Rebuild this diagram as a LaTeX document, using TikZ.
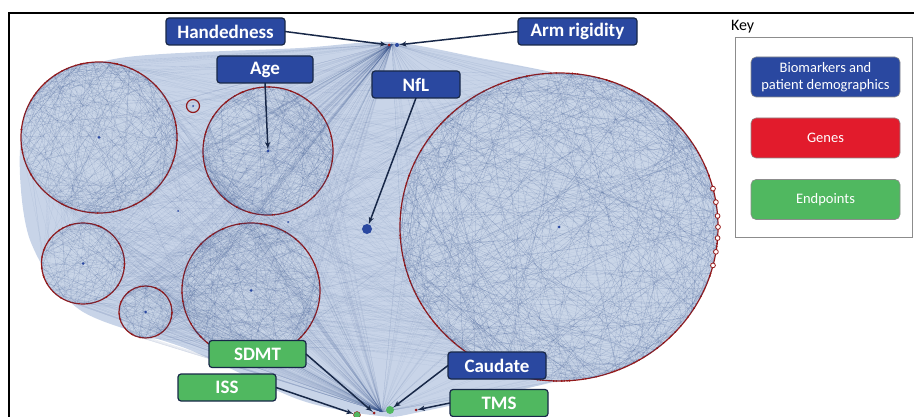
\documentclass[tikz,border=0pt]{standalone}
\usepackage{fontspec}
\setmainfont{Carlito}
\usepackage{tikz}
\usetikzlibrary{arrows,shapes,positioning}
\definecolor{bioblue}{RGB}{42,72,160}
\definecolor{endgreen}{RGB}{80,184,96}
\definecolor{genered}{RGB}{226,27,44}
\definecolor{navyline}{RGB}{24,40,72}
\definecolor{ringred}{RGB}{150,24,24}
\definecolor{webline}{RGB}{50,80,140}
\definecolor{webfill}{RGB}{202,214,232}
\definecolor{haze}{RGB}{200,212,232}
\tikzstyle{tag} = [rectangle, draw=navyline, line width=1.2pt, fill=bioblue, text=white, font=\bfseries\fontsize{19}{22}\selectfont, minimum height=27pt, rounded corners=3pt]
\tikzstyle{greentag} = [tag, fill=endgreen]
\tikzstyle{keytag} = [rectangle, draw=black!45, line width=0.6pt, text=white, align=center, font=\fontsize{14.5}{17}\selectfont, minimum width=149pt, minimum height=40pt, rounded corners=5pt]
\tikzstyle{pointer} = [draw, line width=1.5pt, color=navyline, -latex']
\tikzstyle{ring} = [ellipse, draw=ringred, line width=1.2pt, fill=webfill]
\tikzstyle{webedge} = [draw=webline, line width=0.15pt, opacity=0.3]
\tikzstyle{hubedge} = [draw=webline, line width=0.15pt, opacity=0.12]
\tikzstyle{dot} = [circle, fill=bioblue, minimum size=3pt]

\begin{document}
\begin{tikzpicture}[x=1pt, y=-1pt, every node/.style={inner sep=0pt, outer sep=0pt}]
				\useasboundingbox (0,0) rectangle (914,417);
				\pgfmathsetseed{42}
				% Network background
				\fill[haze] plot[smooth cycle] coordinates {(20,150) (40,90) (120,58) (300,48) (390,42) (480,58) (560,74) (640,95) (690,150) (700,260) (640,350) (560,380) (420,412) (380,416) (300,400) (190,350) (80,310) (30,240)};
				% Place clusters
				\node[ring, minimum width=156pt, minimum height=151pt] (clusterA) at (99,137.5) {};
				\node[ring, minimum width=130pt, minimum height=128pt] (clusterB) at (268,151) {};
				\node[ring, minimum width=318pt, minimum height=308pt] (clusterC) at (559,227) {};
				\node[ring, minimum width=83pt, minimum height=81pt] (clusterD) at (83,263.5) {};
				\node[ring, minimum width=53pt, minimum height=52pt] (clusterE) at (145.5,312) {};
				\node[ring, minimum width=138pt, minimum height=135pt] (clusterF) at (251,290.5) {};
				\node[ring, minimum size=13pt, fill=none] (clusterG) at (193,106) {};
				\coordinate (tophub) at (392,44);
				\coordinate (bottomhub) at (382,412);
				% Draw web
				\foreach \c/\n in {clusterA/220, clusterB/180, clusterC/500, clusterD/90, clusterE/50, clusterF/180}{
					\foreach \i in {1,...,\n}{
						\pgfmathrandominteger{\a}{0}{359}
						\pgfmathrandominteger{\b}{0}{359}
						\draw[webedge] (\c.\a) -- (\c.\b);
					}
				}
				\foreach \c/\d in {clusterA/clusterB, clusterA/clusterC, clusterB/clusterC, clusterF/clusterC, clusterD/clusterF, clusterA/clusterF, clusterB/clusterF, clusterE/clusterF, clusterD/clusterC, clusterA/clusterD, clusterE/clusterC}{
					\foreach \i in {1,...,60}{
						\pgfmathrandominteger{\a}{0}{359}
						\pgfmathrandominteger{\b}{0}{359}
						\draw[hubedge] (\c.\a) -- (\d.\b);
					}
				}
				\foreach \c in {clusterA, clusterB, clusterC, clusterD, clusterE, clusterF}{
					\foreach \i in {1,...,40}{
						\pgfmathrandominteger{\a}{0}{359}
						\pgfmathrandominteger{\b}{0}{359}
						\draw[hubedge] (tophub) -- (\c.\a);
						\draw[hubedge] (bottomhub) -- (\c.\b);
					}
				}
				\foreach \c/\n in {clusterA/60, clusterB/40, clusterC/160, clusterD/25, clusterE/20, clusterF/40}{
					\foreach \i in {1,...,\n}{
						\pgfmathrandominteger{\a}{0}{359}
						\fill[ringred] (\c.\a) circle (0.9pt);
					}
				}
				\foreach \a in {-14,-9,-4,0,4,9,14}{
					\draw[ringred, line width=0.8pt, fill=white] (clusterC.\a) circle (2.4pt);
				}
				% Place hub nodes
				\node[dot] (dotA) at (clusterA.center) {};
				\node[dot] (agehub) at (clusterB.center) {};
				\node[dot] (dotC) at (clusterC.center) {};
				\node[dot] (dotD) at (clusterD.center) {};
				\node[dot] (dotE) at (clusterE.center) {};
				\node[dot] (dotF) at (clusterF.center) {};
				\node[dot, minimum size=2pt] (dotG) at (clusterG.center) {};
				\node[dot, minimum size=2pt] (strayA) at (178,211) {};
				\node[dot, minimum size=2pt] (strayB) at (288,222) {};
				\node[dot, minimum size=10pt] (nfldot) at (367,229) {};
				\node[circle, fill=ringred, minimum size=3pt] (handdot) at (389,45) {};
				\node[dot, minimum size=4pt] (armdot) at (397,45) {};
				\node[circle, fill=endgreen, draw=ringred, line width=0.4pt, minimum size=7pt] (issdot) at (357,415) {};
				\node[circle, fill=ringred, minimum size=3pt] (sdmtdot) at (374,413) {};
				\node[circle, fill=endgreen, minimum size=8pt] (caudot) at (390,410) {};
				\node[circle, fill=ringred, minimum size=3pt] (tmsdot) at (416,410) {};
				% Place labels
				\node[tag, minimum width=119pt] (hand) at (225.5,31.5) {Handedness};
				\node[tag, minimum width=119pt] (armrig) at (577.5,31.5) {Arm rigidity};
				\node[tag, minimum width=96pt] (age) at (265,69.5) {Age};
				\node[tag, minimum width=88pt] (nfl) at (416,84.5) {NfL};
				\node[greentag, minimum width=97pt] (sdmt) at (257.5,354) {SDMT};
				\node[greentag, minimum width=98pt] (iss) at (227,387.5) {ISS};
				\node[tag, minimum width=98pt] (caudate) at (497,365.5) {Caudate};
				\node[greentag, minimum width=98pt] (tms) at (499,403) {TMS};
				% Draw edges
				\path [pointer] (hand.east) -- (handdot);
				\path [pointer] (armrig.west) -- (armdot);
				\path [pointer] (age.south) -- (agehub);
				\path [pointer] (nfl.south) -- (nfldot);
				\path [pointer] (sdmt.east) -- (sdmtdot);
				\path [pointer] (iss.east) -- (issdot);
				\path [pointer] (caudate.west) -- (caudot);
				\path [pointer] (tms.west) -- (tmsdot);
				% Frame and key
				\draw[line width=1.5pt] (9,417) -- (9,13) -- (914,13);
				\node[anchor=west, font=\fontsize{16}{18}\selectfont] (keytitle) at (731,27) {Key};
				\draw[black!45, line width=0.8pt] (735,37) rectangle (912.5,237);
				\node[keytag, fill=bioblue] (keybio) at (825.5,77) {Biomarkers and\\patient demographics};
				\node[keytag, fill=genered] (keygene) at (825.5,138) {Genes};
				\node[keytag, fill=endgreen] (keyend) at (825.5,199.5) {Endpoints};
			\end{tikzpicture}
\end{document}
